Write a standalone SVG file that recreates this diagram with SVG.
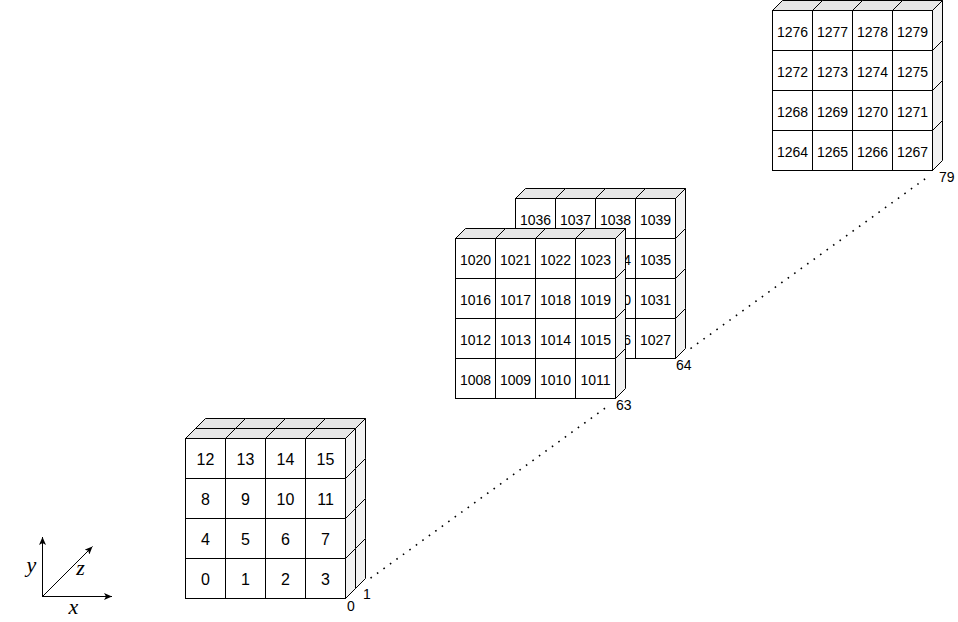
<svg xmlns="http://www.w3.org/2000/svg" width="958" height="622" viewBox="0 0 958 622">
<style>
.top{fill:#e6e6e6;stroke:#000;stroke-width:1;stroke-linejoin:miter}
.side{fill:#f2f2f2;stroke:#000;stroke-width:1}
.front{fill:#fff;stroke:#000;stroke-width:1}
.cells text{font-family:"Liberation Sans",Arial,sans-serif;font-size:14px;text-anchor:middle;fill:#000}
.cells text.frag{text-anchor:start}
#slice0 text{font-size:16px}
.lbl{font-family:"Liberation Sans",Arial,sans-serif;font-size:14px;fill:#000}
.math{font-family:"Liberation Serif","Times New Roman",serif;font-style:italic;font-size:22px;text-anchor:middle;fill:#000}
.dot{stroke:#000;stroke-width:1.6;stroke-dasharray:1.6 6.4;fill:none}
.axis{stroke:#000;stroke-width:1;fill:none}
</style>
<defs>
<g id="cube">
<path class="top" d="M0,0 L10,-10 L50,-10 L40,0Z"/>
<path class="side" d="M40,0 L50,-10 L50,30 L40,40Z"/>
<rect class="front" x="0" y="0" width="40" height="40"/>
</g>
<marker id="arr" viewBox="0 0 8 7" refX="8" refY="3.5" markerWidth="8" markerHeight="7" orient="auto" markerUnits="userSpaceOnUse">
<path d="M0,0 L8,3.5 L0,7 L2,3.5Z" fill="#000"/>
</marker>
</defs>

<g class="cells" transform="translate(0.5,0.5)">
<!-- slice 1 (behind slice 0) -->
<g id="slice1">
<g id="s1-r3c0"><use href="#cube" x="195" y="548"/></g>
<g id="s1-r3c1"><use href="#cube" x="235" y="548"/></g>
<g id="s1-r3c2"><use href="#cube" x="275" y="548"/></g>
<g id="s1-r3c3"><use href="#cube" x="315" y="548"/></g>
<g id="s1-r2c0"><use href="#cube" x="195" y="508"/></g>
<g id="s1-r2c1"><use href="#cube" x="235" y="508"/></g>
<g id="s1-r2c2"><use href="#cube" x="275" y="508"/></g>
<g id="s1-r2c3"><use href="#cube" x="315" y="508"/></g>
<g id="s1-r1c0"><use href="#cube" x="195" y="468"/></g>
<g id="s1-r1c1"><use href="#cube" x="235" y="468"/></g>
<g id="s1-r1c2"><use href="#cube" x="275" y="468"/></g>
<g id="s1-r1c3"><use href="#cube" x="315" y="468"/></g>
<g id="s1-r0c0"><use href="#cube" x="195" y="428"/></g>
<g id="s1-r0c1"><use href="#cube" x="235" y="428"/></g>
<g id="s1-r0c2"><use href="#cube" x="275" y="428"/></g>
<g id="s1-r0c3"><use href="#cube" x="315" y="428"/></g>
</g>
<!-- slice 0 -->
<g id="slice0">
<g id="c0"><use href="#cube" x="185" y="558"/><text x="205" y="584.5">0</text></g>
<g id="c1"><use href="#cube" x="225" y="558"/><text x="245" y="584.5">1</text></g>
<g id="c2"><use href="#cube" x="265" y="558"/><text x="285" y="584.5">2</text></g>
<g id="c3"><use href="#cube" x="305" y="558"/><text x="325" y="584.5">3</text></g>
<g id="c4"><use href="#cube" x="185" y="518"/><text x="205" y="544.5">4</text></g>
<g id="c5"><use href="#cube" x="225" y="518"/><text x="245" y="544.5">5</text></g>
<g id="c6"><use href="#cube" x="265" y="518"/><text x="285" y="544.5">6</text></g>
<g id="c7"><use href="#cube" x="305" y="518"/><text x="325" y="544.5">7</text></g>
<g id="c8"><use href="#cube" x="185" y="478"/><text x="205" y="504.5">8</text></g>
<g id="c9"><use href="#cube" x="225" y="478"/><text x="245" y="504.5">9</text></g>
<g id="c10"><use href="#cube" x="265" y="478"/><text x="285" y="504.5">10</text></g>
<g id="c11"><use href="#cube" x="305" y="478"/><text x="325" y="504.5">11</text></g>
<g id="c12"><use href="#cube" x="185" y="438"/><text x="205" y="464.5">12</text></g>
<g id="c13"><use href="#cube" x="225" y="438"/><text x="245" y="464.5">13</text></g>
<g id="c14"><use href="#cube" x="265" y="438"/><text x="285" y="464.5">14</text></g>
<g id="c15"><use href="#cube" x="305" y="438"/><text x="325" y="464.5">15</text></g>
</g>
<!-- slice 64 (behind slice 63) -->
<g id="slice64">
<g id="c1024"><use href="#cube" x="515" y="318"/></g>
<g id="c1025"><use href="#cube" x="555" y="318"/></g>
<g id="c1026"><use href="#cube" x="595" y="318"/><text class="frag" x="622.8" y="344.5">6</text></g>
<g id="c1027"><use href="#cube" x="635" y="318"/><text x="655" y="344.5">1027</text></g>
<g id="c1028"><use href="#cube" x="515" y="278"/></g>
<g id="c1029"><use href="#cube" x="555" y="278"/></g>
<g id="c1030"><use href="#cube" x="595" y="278"/><text class="frag" x="622.8" y="304.5">0</text></g>
<g id="c1031"><use href="#cube" x="635" y="278"/><text x="655" y="304.5">1031</text></g>
<g id="c1032"><use href="#cube" x="515" y="238"/></g>
<g id="c1033"><use href="#cube" x="555" y="238"/></g>
<g id="c1034"><use href="#cube" x="595" y="238"/><text class="frag" x="622.8" y="264.5">4</text></g>
<g id="c1035"><use href="#cube" x="635" y="238"/><text x="655" y="264.5">1035</text></g>
<g id="c1036"><use href="#cube" x="515" y="198"/><text x="535" y="224.5">1036</text></g>
<g id="c1037"><use href="#cube" x="555" y="198"/><text x="575" y="224.5">1037</text></g>
<g id="c1038"><use href="#cube" x="595" y="198"/><text x="615" y="224.5">1038</text></g>
<g id="c1039"><use href="#cube" x="635" y="198"/><text x="655" y="224.5">1039</text></g>
</g>
<!-- slice 63 -->
<g id="slice63">
<g id="c1008"><use href="#cube" x="455" y="358"/><text x="475" y="384.5">1008</text></g>
<g id="c1009"><use href="#cube" x="495" y="358"/><text x="515" y="384.5">1009</text></g>
<g id="c1010"><use href="#cube" x="535" y="358"/><text x="555" y="384.5">1010</text></g>
<g id="c1011"><use href="#cube" x="575" y="358"/><text x="595" y="384.5">1011</text></g>
<g id="c1012"><use href="#cube" x="455" y="318"/><text x="475" y="344.5">1012</text></g>
<g id="c1013"><use href="#cube" x="495" y="318"/><text x="515" y="344.5">1013</text></g>
<g id="c1014"><use href="#cube" x="535" y="318"/><text x="555" y="344.5">1014</text></g>
<g id="c1015"><use href="#cube" x="575" y="318"/><text x="595" y="344.5">1015</text></g>
<g id="c1016"><use href="#cube" x="455" y="278"/><text x="475" y="304.5">1016</text></g>
<g id="c1017"><use href="#cube" x="495" y="278"/><text x="515" y="304.5">1017</text></g>
<g id="c1018"><use href="#cube" x="535" y="278"/><text x="555" y="304.5">1018</text></g>
<g id="c1019"><use href="#cube" x="575" y="278"/><text x="595" y="304.5">1019</text></g>
<g id="c1020"><use href="#cube" x="455" y="238"/><text x="475" y="264.5">1020</text></g>
<g id="c1021"><use href="#cube" x="495" y="238"/><text x="515" y="264.5">1021</text></g>
<g id="c1022"><use href="#cube" x="535" y="238"/><text x="555" y="264.5">1022</text></g>
<g id="c1023"><use href="#cube" x="575" y="238"/><text x="595" y="264.5">1023</text></g>
</g>
<!-- slice 79 -->
<g id="slice79">
<g id="c1264"><use href="#cube" x="772" y="130"/><text x="792" y="156.5">1264</text></g>
<g id="c1265"><use href="#cube" x="812" y="130"/><text x="832" y="156.5">1265</text></g>
<g id="c1266"><use href="#cube" x="852" y="130"/><text x="872" y="156.5">1266</text></g>
<g id="c1267"><use href="#cube" x="892" y="130"/><text x="912" y="156.5">1267</text></g>
<g id="c1268"><use href="#cube" x="772" y="90"/><text x="792" y="116.5">1268</text></g>
<g id="c1269"><use href="#cube" x="812" y="90"/><text x="832" y="116.5">1269</text></g>
<g id="c1270"><use href="#cube" x="852" y="90"/><text x="872" y="116.5">1270</text></g>
<g id="c1271"><use href="#cube" x="892" y="90"/><text x="912" y="116.5">1271</text></g>
<g id="c1272"><use href="#cube" x="772" y="50"/><text x="792" y="76.5">1272</text></g>
<g id="c1273"><use href="#cube" x="812" y="50"/><text x="832" y="76.5">1273</text></g>
<g id="c1274"><use href="#cube" x="852" y="50"/><text x="872" y="76.5">1274</text></g>
<g id="c1275"><use href="#cube" x="892" y="50"/><text x="912" y="76.5">1275</text></g>
<g id="c1276"><use href="#cube" x="772" y="10"/><text x="792" y="36.5">1276</text></g>
<g id="c1277"><use href="#cube" x="812" y="10"/><text x="832" y="36.5">1277</text></g>
<g id="c1278"><use href="#cube" x="852" y="10"/><text x="872" y="36.5">1278</text></g>
<g id="c1279"><use href="#cube" x="892" y="10"/><text x="912" y="36.5">1279</text></g>
</g>
</g>

<g id="connectors">
<line class="dot" x1="370.5" y1="578.2" x2="606" y2="407.5"/>
<line class="dot" x1="690.5" y1="348.6" x2="926" y2="178.2"/>
</g>

<g id="slice-labels" class="lbl">
<text x="351" y="611" text-anchor="middle">0</text>
<text x="367" y="599" text-anchor="middle">1</text>
<text x="616" y="410">63</text>
<text x="676" y="370">64</text>
<text x="939" y="182">79</text>
</g>

<g id="axes">
<line class="axis" x1="42.5" y1="597" x2="42.5" y2="537" marker-end="url(#arr)"/>
<line class="axis" x1="42" y1="596.5" x2="112" y2="596.5" marker-end="url(#arr)"/>
<line class="axis" x1="42.5" y1="596.5" x2="92.5" y2="546.5" marker-end="url(#arr)"/>
<text class="math" x="31.5" y="572">y</text>
<text class="math" x="80.5" y="575">z</text>
<text class="math" x="73.5" y="614">x</text>
</g>
</svg>
